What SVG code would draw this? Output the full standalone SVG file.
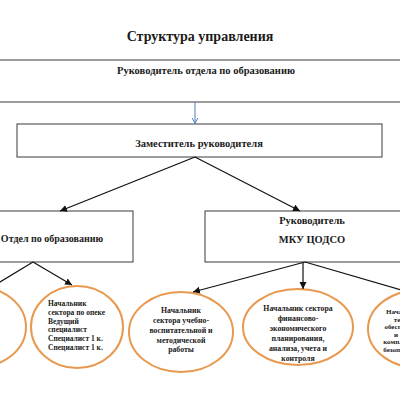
<svg xmlns="http://www.w3.org/2000/svg" width="400" height="400" viewBox="0 0 400 400">
<style>
text{font-family:"Liberation Serif","Times New Roman",serif;font-weight:bold;fill:#1a1a1a}
.box{fill:#fff;stroke:#3a3a3a;stroke-width:1}
.ell{fill:#fff;stroke:#e8994f;stroke-width:2}
.con{stroke:#111;stroke-width:1.2;fill:none;marker-end:url(#ah)}
.t10{font-size:10.5px;text-anchor:middle}
.t8{font-size:7.8px;text-anchor:middle}
.t6{font-size:7px;text-anchor:middle}
.t7{font-size:7.5px}
</style>
<defs>
<marker id="ah" markerUnits="userSpaceOnUse" markerWidth="8" markerHeight="8" refX="7" refY="3.5" orient="auto">
<path d="M0,0 L7,3.5 L0,7 Z" fill="#111"/>
</marker>
<marker id="ahb" markerUnits="userSpaceOnUse" markerWidth="8" markerHeight="8" refX="6" refY="3" orient="auto">
<path d="M0,0 L6,3 L0,6" fill="none" stroke="#4f81bd" stroke-width="1"/>
</marker>
</defs>
<rect width="400" height="400" fill="#fff"/>
<text x="200" y="41" style="font-size:14px;text-anchor:middle">Структура управления</text>

<g id="head">
<rect class="box" x="-10" y="60" width="420" height="42"/>
<text class="t10" x="206" y="74">Руководитель отдела по образованию</text>
</g>
<g id="deputy">
<rect class="box" x="17" y="124" width="365" height="33"/>
<text class="t10" x="199" y="147">Заместитель руководителя</text>
</g>
<g id="dept">
<rect class="box" x="-32" y="211" width="165" height="51"/>
<text x="52" y="242" style="font-size:10px;text-anchor:middle">Отдел по образованию</text>
</g>
<g id="mku">
<rect class="box" x="205" y="211" width="215" height="51"/>
<text class="t10" x="312" y="224">Руководитель</text>
<text class="t10" x="312" y="243">МКУ ЦОДСО</text>
</g>

<g id="e1">
<ellipse class="ell" cx="-22" cy="327" rx="48" ry="40"/>
</g>
<g id="e2">
<ellipse class="ell" cx="77" cy="327" rx="46" ry="41"/>
<text class="t7" x="48" y="306">Начальник</text>
<text class="t7" x="48" y="315">сектора по опеке</text>
<text class="t7" x="48" y="323.5">Ведущий</text>
<text class="t7" x="48" y="332">специалист</text>
<text class="t7" x="48" y="341">Специалист 1 к.</text>
<text class="t7" x="48" y="350">Специалист 1 к.</text>
</g>
<g id="e3">
<ellipse class="ell" cx="181" cy="332" rx="52" ry="40"/>
<text class="t8" x="181" y="313">Начальник</text>
<text class="t8" x="181" y="323">сектора учебно-</text>
<text class="t8" x="181" y="333">воспитательной и</text>
<text class="t8" x="181" y="343">методической</text>
<text class="t8" x="181" y="352">работы</text>
</g>
<g id="e4">
<ellipse class="ell" cx="298" cy="327" rx="55" ry="38"/>
<text class="t8" x="298" y="311">Начальник сектора</text>
<text class="t8" x="298" y="321">финансово-</text>
<text class="t8" x="298" y="331">экономического</text>
<text class="t8" x="298" y="341">планирования,</text>
<text class="t8" x="298" y="351">анализа, учета и</text>
<text class="t8" x="298" y="361">контроля</text>
</g>
<g id="e5">
<ellipse class="ell" cx="420" cy="329" rx="52" ry="39"/>
<text class="t6" x="404" y="314">Начальник</text>
<text class="t6" x="404" y="321.5">техни-</text>
<text class="t6" x="404" y="329">обеспечения</text>
<text class="t6" x="396" y="336.5">и</text>
<text class="t6" x="404" y="344">комплексной</text>
<text class="t6" x="404" y="351.5">безопасности</text>
</g>

<g id="connectors">
<line x1="195" y1="102" x2="195" y2="123.5" stroke="#4f81bd" stroke-width="1" marker-end="url(#ahb)"/>
<line class="con" x1="195" y1="157" x2="60" y2="211"/>
<line class="con" x1="195" y1="157" x2="300" y2="211"/>
<line class="con" x1="33" y1="262" x2="-10" y2="288"/>
<line class="con" x1="33" y1="262" x2="72" y2="285"/>
<line class="con" x1="305" y1="262" x2="193" y2="292"/>
<line class="con" x1="303" y1="262" x2="303" y2="289"/>
<line class="con" x1="305" y1="262" x2="418" y2="295"/>
</g>
</svg>
